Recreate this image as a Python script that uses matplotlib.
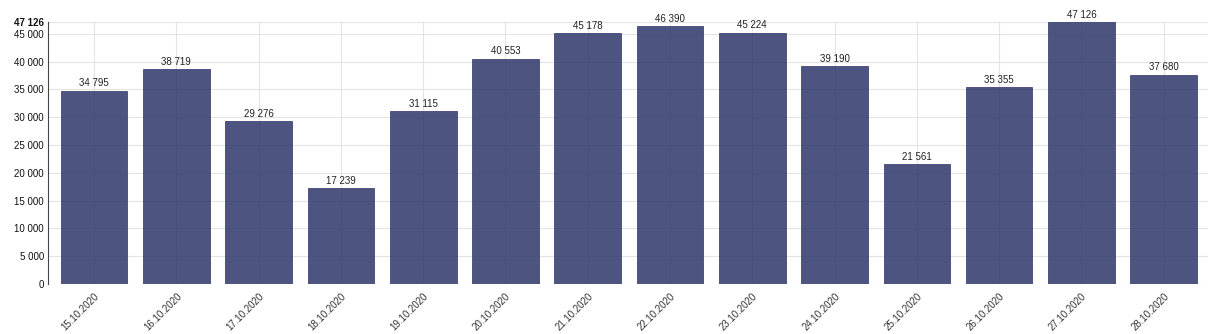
import matplotlib.pyplot as plt
import numpy as np

dates = ['15.10.2020', '16.10.2020', '17.10.2020', '18.10.2020', '19.10.2020',
         '20.10.2020', '21.10.2020', '22.10.2020', '23.10.2020', '24.10.2020',
         '25.10.2020', '26.10.2020', '27.10.2020', '28.10.2020']
values = [34795, 38719, 29276, 17239, 31115, 40553, 45178,
          46390, 45224, 39190, 21561, 35355, 47126, 37680]

plt.rcParams['font.family'] = ['Liberation Sans', 'DejaVu Sans']


def fmt(v):
    return f'{v:,}'.replace(',', ' ')


fig = plt.figure(figsize=(12.25, 3.34), dpi=100)
ax = fig.add_axes([0.0392, 0.1497, 0.947, 0.7843])

x = np.arange(len(values))
ax.bar(x, values, width=0.81, color='#2f366a', edgecolor='#2f366a',
       linewidth=0.6, alpha=0.85, zorder=2)
for xi, v in zip(x, values):
    ax.text(xi, v + 400, fmt(v), ha='center', va='bottom', fontsize=7,
            color='#222222', zorder=4)

ax.set_xlim(-0.56, len(values) - 1 + 0.54)
top = max(values)
ax.set_ylim(0, top)
ticks = list(range(0, 45001, 5000)) + [top]
ax.set_yticks(ticks)
ax.set_yticklabels([fmt(t) for t in ticks])
ax.get_yticklabels()[-1].set_fontweight('bold')
ax.set_xticks(x)
ax.set_xticklabels(dates, rotation=45, ha='right', va='top',
                   rotation_mode='anchor')

ax.tick_params(axis='y', labelsize=7, colors='#111111', length=0, pad=3)
ax.tick_params(axis='x', labelsize=7, colors='#333333', length=0, pad=5)
ax.grid(True, color='#e4e4e4', linewidth=0.8, zorder=1)
ax.set_axisbelow(True)

for s in ['top', 'right', 'bottom']:
    ax.spines[s].set_visible(False)
ax.spines['left'].set_color('#444444')
ax.spines['left'].set_linewidth(0.8)

fig.savefig('out.png', dpi=100)
